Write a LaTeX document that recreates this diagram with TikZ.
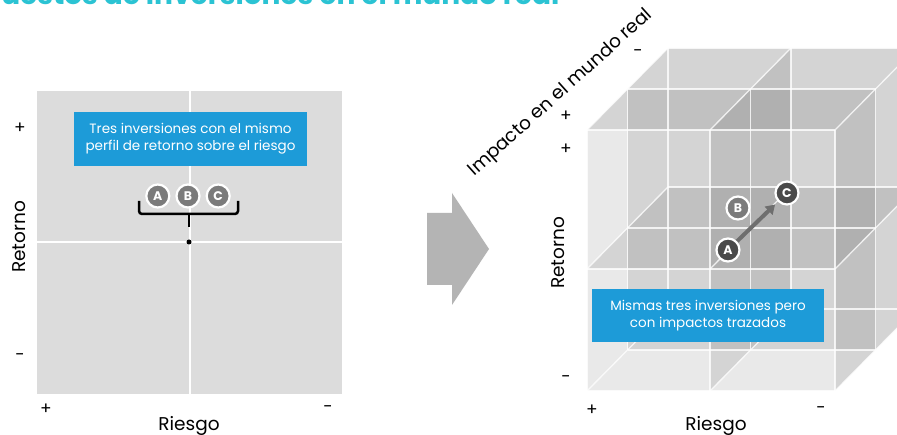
\documentclass[tikz,border=0pt]{standalone}
\usepackage{fontspec}
\setmainfont{Poppins}
\usepackage{tikz}
\usetikzlibrary{arrows.meta,positioning,shadows}
\definecolor{Sky}{RGB}{29,155,216}
\definecolor{Aqua}{RGB}{43,195,211}
\definecolor{Panel}{RGB}{220,220,220}
\definecolor{Stone}{RGB}{180,180,180}
\definecolor{Dot}{RGB}{123,123,123}
\definecolor{DarkDot}{RGB}{74,74,74}
\definecolor{Pointer}{RGB}{110,110,110}
\tikzset{
  infobox/.style={fill=Sky,text=white,font=\fontsize{13.5}{17}\selectfont,align=center,inner sep=0pt,minimum width=233pt,minimum height=54pt},
  invdot/.style={circle,draw=white,line width=2.2pt,fill=Dot,text=white,font=\fontsize{12.5}{12.5}\selectfont\bfseries,inner sep=0pt,minimum size=23pt},
  darkdot/.style={invdot,fill=DarkDot},
  shadowdot/.style={drop shadow={opacity=0.3,shadow xshift=1pt,shadow yshift=-1pt}},
  axistext/.style={font=\fontsize{18.5}{18.5}\selectfont},
  signtext/.style={font=\fontsize{17}{17}\selectfont},
  gridline/.style={draw=white,line width=1.3pt,opacity=0.8},
  planefill/.style={fill=black,fill opacity=0.085},
  pointer/.style={-{Triangle[length=9pt,width=11pt]},line width=4pt,draw=Pointer,shorten >=4pt}
}
\begin{document}
\begin{tikzpicture}[x=1pt,y=-1pt]
\useasboundingbox (0,0) rectangle (897,435);
\clip (0,0) rectangle (897,435);
\fill[white] (0,0) rectangle (897,435);
% title, cut at the top edge
\node[anchor=base east,text=Aqua,font=\fontsize{28}{28}\selectfont\bfseries] (title) at (563,4.5) {Supuestos de inversiones en el mundo real};

% left panel: risk / return
\fill[Panel] (37,91) rectangle (342,394);
\draw[white,line width=2pt] (190,91) -- (190,394);
\draw[white,line width=2pt] (37,242) -- (342,242);
\node[infobox] (sameprofile) at (190.5,139) {Tres inversiones con el mismo\\perfil de retorno sobre el riesgo};
\node[invdot] (sameB) at (188,196) {B};
\node[invdot,left=5pt of sameB] (sameA) {A};
\node[invdot,right=5pt of sameB] (sameC) {C};
\draw[line width=2.5pt,rounded corners=3pt] (139,201) |- (238,214) -- (238,201);
\draw[line width=2.5pt] (189,213) -- (189,227);
\node[circle,fill=black,inner sep=0pt,minimum size=5pt] (origin) at (189,242) {};
\node[signtext] (retplus) at (20,128) {+};
\node[axistext,rotate=90] (retleft) at (19,237) {Retorno};
\node[signtext] (retminus) at (20,357) {-};
\node[signtext] (riskplus) at (46,409) {+};
\node[signtext] (riskminus) at (328,409) {-};
\node[axistext,anchor=base] (riskleft) at (189,431) {Riesgo};

% big arrow
\fill[Stone] (427,213) -- (452,213) -- (452,193) -- (489,249) -- (452,305) -- (452,285) -- (427,285) -- cycle;

% right panel: cube of risk / return / impact
\foreach \xi in {587,710,835}
  \fill[planefill] (\xi,130) -- ++(81,-82) -- ++(0,261) -- ++(-81,82) -- cycle;
\foreach \yj in {130,269,391}
  \fill[planefill] (587,\yj) -- (835,\yj) -- ++(81,-82) -- ++(-248,0) -- cycle;
\foreach \zk in {1,2}
  \fill[planefill] ({587+40.5*\zk},{130-41*\zk}) rectangle ++(248,261);
\foreach \zk in {0,1,2}{
  \foreach \yj in {130,269,391}
    \draw[gridline] ({587+40.5*\zk},{\yj-41*\zk}) -- ++(248,0);
  \foreach \xi in {587,710,835}
    \draw[gridline] ({\xi+40.5*\zk},{130-41*\zk}) -- ++(0,261);
}
\foreach \xi in {587,710,835}
  \foreach \yj in {130,269,391}
    \draw[gridline] (\xi,\yj) -- ++(81,-82);

\node[infobox,minimum width=232pt,minimum height=53pt] (plotted) at (708,315.5) {Mismas tres inversiones pero\\con impactos trazados};
\node[darkdot,shadowdot] (impA) at (728,250) {A};
\node[invdot,shadowdot] (impB) at (738,208) {B};
\node[darkdot,shadowdot] (impC) at (787,193) {C};
\draw[pointer] (impA) -- (impC);

\node[axistext,rotate=42] (impact) at (561,93) {Impacto en el mundo real};
\node[signtext] (impminus) at (638,53) {-};
\node[signtext] (impplus) at (566,116) {+};
\node[signtext] (retplusr) at (566,149) {+};
\node[axistext,rotate=90] (retright) at (558,253) {Retorno};
\node[signtext] (retminusr) at (566,379) {-};
\node[signtext] (riskplusr) at (592,410) {+};
\node[signtext] (riskminusr) at (821,410) {-};
\node[axistext,anchor=base] (riskright) at (716,431) {Riesgo};
\end{tikzpicture}
\end{document}
